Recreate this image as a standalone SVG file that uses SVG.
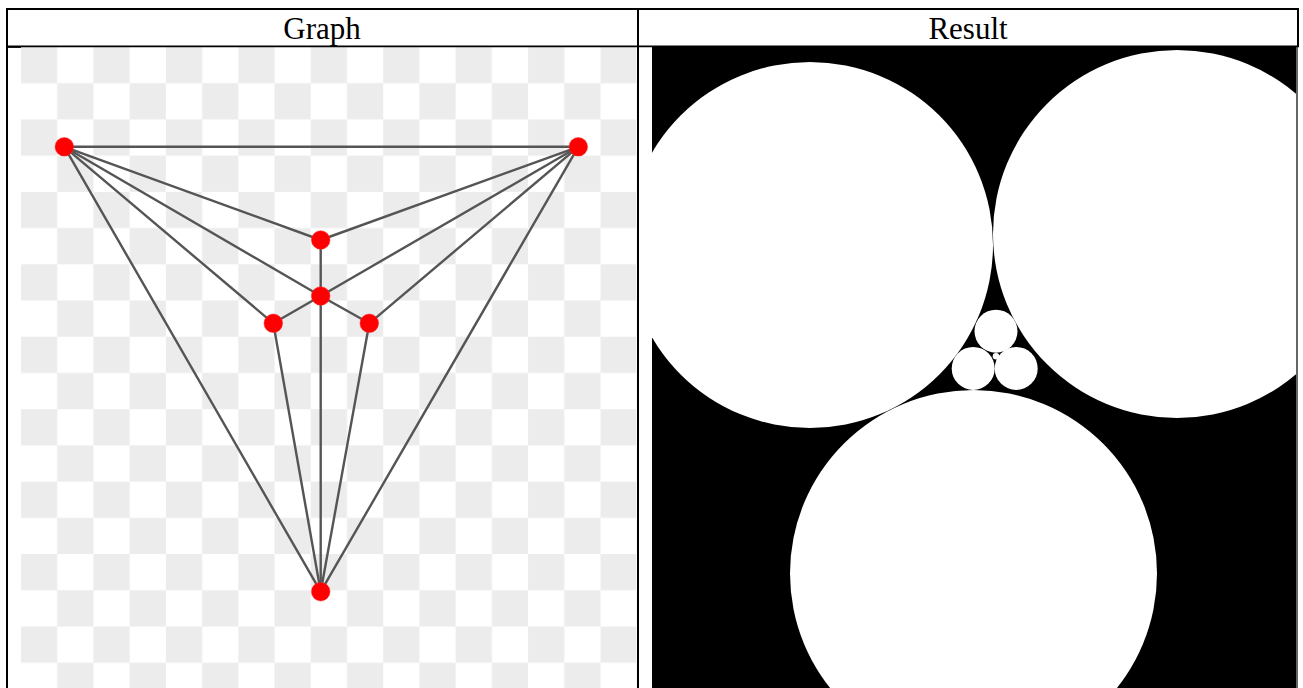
<svg xmlns="http://www.w3.org/2000/svg" width="1303" height="688" viewBox="0 0 1303 688">
  <defs>
    <style>
      .hdr { font-family: "Liberation Serif", "Times New Roman", serif; font-size: 31px; fill: #000; text-anchor: middle; }
      .rule { stroke: #000; fill: none; }
      .edge { stroke: #555555; stroke-width: 2.4; stroke-linecap: round; fill: none; }
      .vtx { fill: #ff0000; stroke: #ff2a2a; stroke-opacity: 0.5; stroke-width: 1; }
      .disk { fill: #ffffff; }
    </style>
    <pattern id="checker" patternUnits="userSpaceOnUse" x="21" y="47" width="72.44" height="72.44">
      <rect x="0" y="0" width="72.44" height="72.44" fill="#ffffff"/>
      <rect x="0" y="0" width="36.22" height="36.22" fill="#ececec"/>
      <rect x="36.22" y="36.22" width="36.22" height="36.22" fill="#ececec"/>
    </pattern>
    <clipPath id="resultClip">
      <rect x="652" y="47" width="644" height="641"/>
    </clipPath>
  </defs>

  <rect x="0" y="0" width="1303" height="688" fill="#ffffff"/>

  <!-- table header -->
  <text class="hdr" x="322" y="38.5">Graph</text>
  <text class="hdr" x="968" y="38.5">Result</text>

  <!-- left cell: checkerboard -->
  <rect x="21" y="47" width="615.7" height="641" fill="url(#checker)"/>

  <!-- right cell: black background -->
  <rect x="652" y="47" width="644" height="641" fill="#000000"/>

  <!-- table rules -->
  <line class="rule" x1="6" y1="9" x2="1299" y2="9" stroke-width="2"/>
  <line class="rule" x1="7" y1="8" x2="7" y2="688" stroke-width="2"/>
  <line class="rule" x1="638" y1="9" x2="638" y2="688" stroke-width="2"/>
  <line class="rule" x1="1298" y1="8" x2="1298" y2="47" stroke-width="2"/>
  <line class="rule" x1="1297" y1="47" x2="1297" y2="688" stroke-width="1.2"/>
  <line class="rule" x1="6" y1="46.3" x2="1299" y2="46.3" stroke-width="1.8"/>
  <line class="rule" x1="8" y1="47.3" x2="21" y2="47.3" stroke-width="1.2"/>

  <!-- graph connectors -->
  <g id="edges">
    <line class="edge" x1="64.3" y1="146.8" x2="578.3" y2="146.8"/>
    <line class="edge" x1="64.3" y1="146.8" x2="320.7" y2="240"/>
    <line class="edge" x1="64.3" y1="146.8" x2="320.7" y2="296"/>
    <line class="edge" x1="64.3" y1="146.8" x2="273.3" y2="323.3"/>
    <line class="edge" x1="64.3" y1="146.8" x2="320.7" y2="591.7"/>
    <line class="edge" x1="578.3" y1="146.8" x2="320.7" y2="240"/>
    <line class="edge" x1="578.3" y1="146.8" x2="320.7" y2="296"/>
    <line class="edge" x1="578.3" y1="146.8" x2="369.3" y2="323.3"/>
    <line class="edge" x1="578.3" y1="146.8" x2="320.7" y2="591.7"/>
    <line class="edge" x1="320.7" y1="240" x2="320.7" y2="296"/>
    <line class="edge" x1="320.7" y1="296" x2="273.3" y2="323.3"/>
    <line class="edge" x1="320.7" y1="296" x2="369.3" y2="323.3"/>
    <line class="edge" x1="320.7" y1="296" x2="320.7" y2="591.7"/>
    <line class="edge" x1="273.3" y1="323.3" x2="320.7" y2="591.7"/>
    <line class="edge" x1="369.3" y1="323.3" x2="320.7" y2="591.7"/>
  </g>

  <!-- graph vertices -->
  <g id="vA"><circle class="vtx" cx="64.3" cy="146.8" r="9.3"/></g>
  <g id="vB"><circle class="vtx" cx="578.3" cy="146.8" r="9.3"/></g>
  <g id="vC"><circle class="vtx" cx="320.7" cy="240" r="9.3"/></g>
  <g id="vD"><circle class="vtx" cx="320.7" cy="296" r="9.3"/></g>
  <g id="vE"><circle class="vtx" cx="273.3" cy="323.3" r="9.3"/></g>
  <g id="vF"><circle class="vtx" cx="369.3" cy="323.3" r="9.3"/></g>
  <g id="vG"><circle class="vtx" cx="320.7" cy="591.7" r="9.3"/></g>

  <!-- result: circle packing -->
  <g clip-path="url(#resultClip)">
    <g id="cA"><circle class="disk" cx="810" cy="245" r="183"/></g>
    <g id="cB"><circle class="disk" cx="1177" cy="234" r="184"/></g>
    <g id="cG"><circle class="disk" cx="973.5" cy="573.5" r="183.5"/></g>
    <g id="cC"><circle class="disk" cx="996" cy="331.2" r="21.5"/></g>
    <g id="cE"><circle class="disk" cx="973.2" cy="368.4" r="21.5"/></g>
    <g id="cF"><circle class="disk" cx="1016.2" cy="368.4" r="21.5"/></g>
    <g id="cD"><circle class="disk" cx="996" cy="356.3" r="3.3"/></g>
  </g>
</svg>
